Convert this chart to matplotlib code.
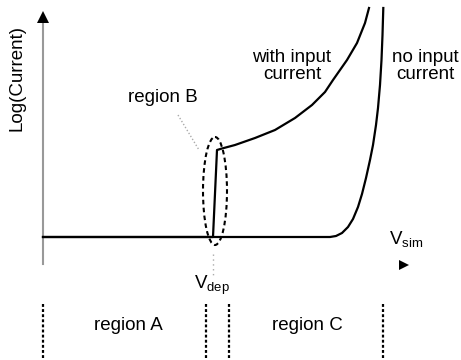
import matplotlib
matplotlib.use('Agg')
import matplotlib.pyplot as plt
from matplotlib.patches import Ellipse

plt.rcParams['font.family'] = ['Liberation Sans', 'DejaVu Sans']

# sketch drawn in pixel units, y grows downward
W, H = 461, 360
x_axis = 43
x_dep = 213

# current without input: flat, then sharp rise
no_in_x = [43, 330, 336, 342, 348, 353, 358, 362, 366, 370, 373, 376, 378,
           380, 381.5, 382.5, 383.3]
no_in_y = [237, 237, 236, 233, 227, 219, 207, 194, 178, 160, 145, 125, 108,
           85, 60, 35, 8]

# current with input: flat, jump at V_dep, then gradual rise
with_in_x = [43, 213, 217, 222, 235, 255, 275, 295, 312, 325, 333, 347, 357,
             365, 369]
with_in_y = [237, 237, 150, 148.5, 145, 138, 130, 118, 105, 92, 80, 60, 43,
             23, 8]

# region boundaries along V_sim
bounds = [43, 206, 229, 383]
region_labels = ['region A', 'region C']
region_x = [128, 307]

fig = plt.figure(figsize=(W / 100, H / 100), dpi=100)
ax = fig.add_axes([0, 0, 1, 1])
ax.set_xlim(0, W)
ax.set_ylim(H, 0)
ax.axis('off')

# axes with arrow heads
ax.plot([x_axis, x_axis], [20, 264], color='#999999', lw=1.5)
ax.plot(x_axis, 17, marker='^', color='black', ms=9, mew=0)
ax.plot(404, 265, marker='>', color='black', ms=7.5, mew=0)

ax.plot(with_in_x, with_in_y, color='black', lw=1.6, solid_joinstyle='round')
ax.plot(no_in_x, no_in_y, color='black', lw=1.6, solid_joinstyle='round')

# region B marker
ax.add_patch(Ellipse((215, 191), 24, 108, fill=False, ls=(0, (2.2, 1.6)),
                     lw=1.5, color='black'))
ax.plot([178, 199], [115, 150], color='#aaaaaa', lw=1, ls=(0, (1, 1.5)))
ax.plot([x_dep, x_dep], [254, 275], color='#aaaaaa', lw=1, ls=(0, (1, 2.5)))

for b in bounds:
    ax.plot([b, b], [304, H], color='black', lw=1.6, ls=(0, (1.3, 1.0)))

fs = 13.5
ax.text(17, 78, 'Log(Current)', rotation=90, ha='center', va='center', fontsize=fs)
ax.text(163, 98, 'region B', ha='center', va='center', fontsize=fs)
ax.text(292, 66, 'with input\ncurrent', ha='center', va='center', fontsize=fs,
        linespacing=1.05)
ax.text(425, 66, 'no input\ncurrent', ha='center', va='center', fontsize=fs,
        linespacing=1.05)
ax.text(389, 240, r'V$_{\mathregular{sim}}$', ha='left', va='center', fontsize=fs)
ax.text(194, 285, r'V$_{\mathregular{dep}}$', ha='left', va='center', fontsize=fs)
for lbl, x in zip(region_labels, region_x):
    ax.text(x, 325, lbl, ha='center', va='center', fontsize=fs)

fig.savefig('out.png', dpi=100)
